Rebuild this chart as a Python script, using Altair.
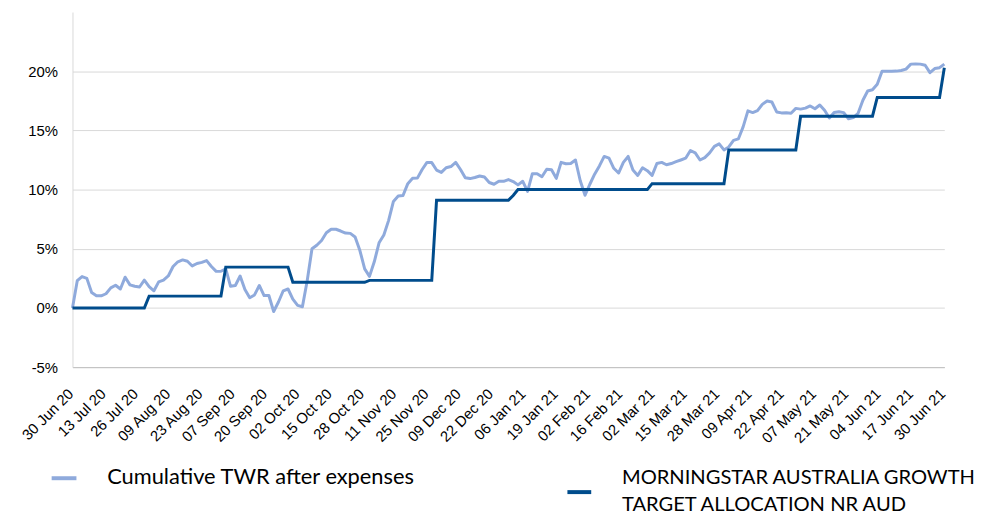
import altair as alt
import pandas as pd

# ---- data ----
x_labels = ["30 Jun 20", "13 Jul 20", "26 Jul 20", "09 Aug 20", "23 Aug 20", "07 Sep 20",
            "20 Sep 20", "02 Oct 20", "15 Oct 20", "28 Oct 20", "11 Nov 20", "25 Nov 20",
            "09 Dec 20", "22 Dec 20", "06 Jan 21", "19 Jan 21", "02 Feb 21", "16 Feb 21",
            "02 Mar 21", "15 Mar 21", "28 Mar 21", "09 Apr 21", "22 Apr 21", "07 May 21",
            "21 May 21", "04 Jun 21", "17 Jun 21", "30 Jun 21"]

series_names = ["Cumulative TWR after expenses",
                "MORNINGSTAR AUSTRALIA GROWTH\nTARGET ALLOCATION NR AUD"]

# Cumulative TWR after expenses (%), one value per observation
twr = [0.0, 2.3, 2.65, 2.5, 1.3, 1.03, 1.03, 1.2, 1.7, 1.92,
       1.6, 2.6, 1.95, 1.83, 1.77, 2.35, 1.8, 1.45, 2.2, 2.35,
       2.7, 3.5, 3.9, 4.06, 3.95, 3.55, 3.76, 3.85, 4.0, 3.5,
       3.09, 3.1, 3.3, 1.83, 1.9, 2.7, 1.55, 0.86, 1.1, 1.9,
       1.05, 1.05, -0.3, 0.5, 1.45, 1.6, 0.75, 0.22, 0.1, 2.3,
       5.0, 5.3, 5.7, 6.35, 6.65, 6.65, 6.5, 6.33, 6.3, 6.0,
       4.85, 3.3, 2.67, 3.9, 5.5, 6.17, 7.4, 9.0, 9.45, 9.5,
       10.5, 10.95, 10.97, 11.7, 12.3, 12.28, 11.65, 11.45, 11.85, 11.95,
       12.3, 11.7, 11.0, 10.93, 11.02, 11.15, 11.06, 10.6, 10.45, 10.7,
       10.7, 10.85, 10.68, 10.4, 10.7, 9.85, 11.34, 11.34, 11.08, 11.72,
       11.67, 10.95, 12.3, 12.18, 12.2, 12.5, 10.75, 9.52, 10.45, 11.3,
       12.0, 12.8, 12.65, 11.8, 11.4, 12.3, 12.8, 11.65, 11.2, 11.85,
       11.6, 11.2, 12.2, 12.3, 12.1, 12.2, 12.36, 12.5, 12.65, 13.3,
       13.1, 12.5, 12.7, 13.1, 13.65, 13.86, 13.35, 13.6, 14.16, 14.28,
       15.3, 16.65, 16.51, 16.67, 17.2, 17.49, 17.4, 16.56, 16.48, 16.5,
       16.45, 16.86, 16.8, 16.88, 17.07, 16.83, 17.15, 16.7, 16.05, 16.51,
       16.58, 16.5, 15.98, 16.08, 16.45, 17.55, 18.33, 18.43, 18.9, 20.0,
       20.0, 20.0, 20.01, 20.06, 20.18, 20.6, 20.62, 20.6, 20.5, 19.88,
       20.23, 20.3, 20.6]

# Morningstar benchmark (%), one value per observation
benchmark = ([0.0] * 16 + [1.0] * 16 + [3.45] * 14 + [2.17] * 16 + [2.33] * 14 +
             [9.1] * 16 + [9.5] + [10.0] * 28 + [10.5] * 16 + [13.35] * 15 +
             [16.2] * 16 + [17.78] * 14 + [20.3])

n = len(twr)
n_int = len(x_labels) - 1
df_twr = pd.DataFrame({"i": list(range(n)), "v": twr})
df_bm = pd.DataFrame({"i": list(range(len(benchmark))), "v": benchmark})
df_one = pd.DataFrame({"k": [0]})

light = "#8FAADC"
dark = "#004C8C"
axis_font = "Liberation Sans"
legend_font = "Lato"

label_js = "[" + ",".join("'" + s + "'" for s in x_labels) + "]"
tick_vals = [k * (n - 1) / n_int for k in range(n_int + 1)]

x_enc = alt.X(
    "i:Q",
    scale=alt.Scale(domain=[0, n - 1], nice=False, zero=False),
    axis=alt.Axis(
        values=tick_vals,
        labelExpr=label_js + "[round(datum.value * " + str(n_int) + " / " + str(n - 1) + ")]",
        labelAngle=-45, labelAlign="right", labelBaseline="top",
        labelFlush=False, labelOverlap=False, labelPadding=19, labelOffset=-7,
        labelFont=axis_font, labelFontSize=15, labelColor="#000000",
        ticks=False, grid=False, domainColor="#bfbfbf", title=None,
    ),
)
y_enc = alt.Y(
    "v:Q",
    scale=alt.Scale(domain=[-5, 25], nice=False, zero=False),
    axis=alt.Axis(
        values=[-5, 0, 5, 10, 15, 20],
        labelExpr="datum.value + '%'",
        labelFont=axis_font, labelFontSize=15, labelColor="#000000",
        labelPadding=15, ticks=False, grid=True, gridColor="#d9d9d9",
        domainColor="#d9d9d9", title=None,
    ),
)

line_twr = alt.Chart(df_twr).mark_line(color=light, strokeWidth=3, strokeJoin="round").encode(x=x_enc, y=y_enc)
line_bm = alt.Chart(df_bm).mark_line(color=dark, strokeWidth=3).encode(x=x_enc, y=y_enc)

# legend drawn below the plot
leg_sw1 = alt.Chart(df_one).mark_rule(color=light, strokeWidth=4).encode(
    x=alt.value(-21), x2=alt.value(4), y=alt.value(470))
leg_tx1 = alt.Chart(df_one).mark_text(
    text=series_names[0], align="left", baseline="alphabetic",
    font=legend_font, fontSize=22, color="#000000").encode(
    x=alt.value(35), y=alt.value(476))
leg_sw2 = alt.Chart(df_one).mark_rule(color=dark, strokeWidth=4).encode(
    x=alt.value(499), x2=alt.value(523), y=alt.value(484))
leg_tx2 = alt.Chart(df_one).mark_text(
    text=series_names[1].split("\n"), align="left", baseline="alphabetic", lineHeight=27,
    font=legend_font, fontSize=20.3, color="#000000").encode(
    x=alt.value(554), y=alt.value(476))

chart = alt.layer(line_twr, line_bm, leg_sw1, leg_tx1, leg_sw2, leg_tx2).properties(
    width=879, height=358,
    padding={"left": 65, "top": 2, "right": 40, "bottom": 147},
    autosize=alt.AutoSizeParams(type="none"),
).configure_view(stroke=None).configure_axis(labelOverlap=False)

chart.save("out.html", embed_options={"renderer": "svg", "actions": False})
